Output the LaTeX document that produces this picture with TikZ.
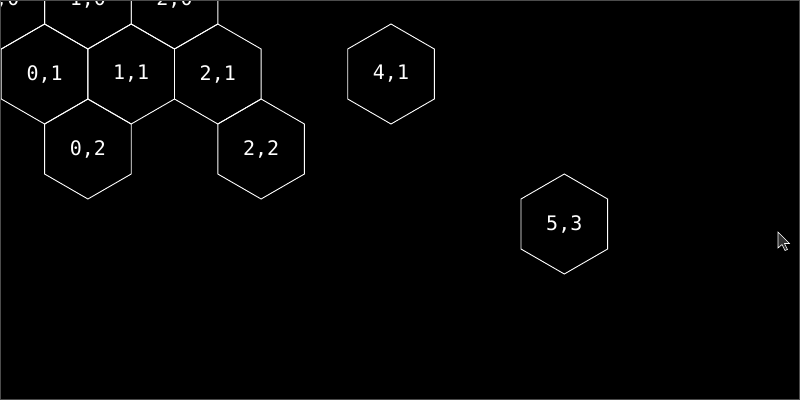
\documentclass[tikz,border=0pt]{standalone}
\usepackage{fontspec}
\setmonofont{DejaVu Sans Mono}
\usetikzlibrary{shapes}

\begin{document}
\begin{tikzpicture}[x=1pt, y=-1pt]
\tikzstyle{hexcell}=[draw=white, line width=0.9pt, shape=regular polygon, regular polygon sides=6,
  shape border rotate=30, minimum size=100pt, inner sep=0pt, text=white,
  font=\ttfamily\fontsize{20}{24}\selectfont];
\useasboundingbox (0,0) rectangle (800,400);
\fill[black] (0,0) rectangle (800,400);
\clip (0,0) rectangle (800,400);
\node[hexcell] (h00) at (1.3, -1) {0,0};
\node[hexcell] (h10) at (87.9, -1) {1,0};
\node[hexcell] (h20) at (174.5, -1) {2,0};
\node[hexcell] (h01) at (44.6, 74) {0,1};
\node[hexcell] (h11) at (131.2, 74) {1,1};
\node[hexcell] (h21) at (217.8, 74) {2,1};
\node[hexcell] (h41) at (391, 74) {4,1};
\node[hexcell] (h02) at (87.9, 149) {0,2};
\node[hexcell] (h22) at (261.1, 149) {2,2};
\node[hexcell] (h53) at (564.3, 224) {5,3};
% pointer
\draw[white, fill=black!80, line width=0.6pt, line join=miter]
  (778,232) -- (778,248) -- (782,244.5) -- (785,250.5) -- (787.5,249.5)
  -- (784.5,243.5) -- (789.5,243.5) -- cycle;
\draw[black!70, line width=1pt] (0.5,0.5) rectangle (799.5,399.5);
\end{tikzpicture}
\end{document}
